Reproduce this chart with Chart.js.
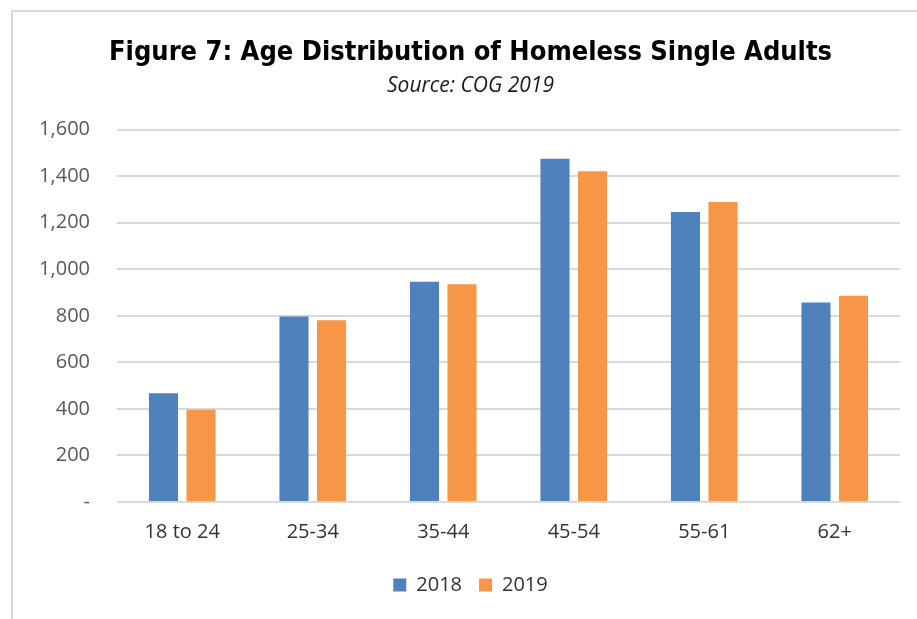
<!DOCTYPE html>
<html>
<head>
<meta charset="utf-8">
<script src="https://cdn.jsdelivr.net/npm/chart.js@4"></script>
<style>
  html, body { margin: 0; padding: 0; background: #fff; }
  .frame {
    position: absolute; left: 11px; top: 10px; width: 920px; height: 620px;
    border-left: 2px solid #d9d9d9; border-top: 2px solid #d9d9d9;
  }
  .wrap { position: absolute; left: 0; top: 0; width: 917px; height: 619px; }
</style>
</head>
<body>
<div class="frame"></div>
<div class="wrap"><canvas id="myChart" width="917" height="619"></canvas></div>
<script>
const ageGroups = ["18 to 24", "25-34", "35-44", "45-54", "55-61", "62+"];
const values2018 = [467, 797, 946, 1475, 1246, 857];
const values2019 = [396, 781, 936, 1421, 1289, 886];
const seriesNames = ["2018", "2019"];
const chartTitle = "Figure 7: Age Distribution of Homeless Single Adults";
const chartSource = "Source: COG 2019";

const blue = "#4F81BD";
const orange = "#F79646";
const bodyFont = "'Open Sans', 'Noto Sans', sans-serif";

const chartCanvas = document.querySelector("#myChart");

new Chart(chartCanvas, {
  type: "bar",
  data: {
    labels: ageGroups,
    datasets: [
      {
        label: seriesNames[0],
        data: values2018,
        backgroundColor: blue,
        borderWidth: 0,
        yAxisID: "y",
      },
      {
        label: seriesNames[1],
        data: values2019,
        backgroundColor: orange,
        borderWidth: 0,
        yAxisID: "y",
      },
    ],
  },
  options: {
    responsive: false,
    animation: false,
    categoryPercentage: 0.575,
    barPercentage: 0.775,
    layout: { padding: { left: 24, right: 0, top: 0, bottom: 14 } },
    scales: {
      x: {
        grid: { display: false, drawTicks: false },
        border: { display: false },
        ticks: {
          padding: 18,
          color: "#333333",
          font: { family: bodyFont, size: 20 },
        },
        afterFit: (scale) => { scale.height = 56; },
      },
      y: {
        min: 0,
        max: 1600,
        ticks: {
          stepSize: 200,
          padding: 27,
          color: "#595959",
          font: { family: bodyFont, size: 20 },
          callback: (v) => (v === 0 ? "-" : v.toLocaleString("en-US")),
        },
        grid: { color: "#d9d9d9", lineWidth: 2, drawTicks: false },
        border: { display: false },
        afterFit: (scale) => { scale.width = 93; },
      },
      // empty axis, only keeps a small margin on the right
      yRight: {
        position: "right",
        display: true,
        grid: { display: false, drawTicks: false },
        border: { display: false },
        ticks: { display: false },
        afterFit: (scale) => { scale.width = 17; },
      },
    },
    plugins: {
      title: {
        display: true,
        text: chartTitle,
        color: "#000000",
        font: { family: "'DejaVu Sans Condensed', 'Liberation Sans', sans-serif", size: 27, weight: "bold" },
        padding: { top: 37, bottom: 0 },
      },
      subtitle: {
        display: true,
        text: chartSource,
        color: "#1a1a1a",
        font: { family: bodyFont, size: 21, style: "italic" },
        padding: { top: 4, bottom: 31 },
      },
      legend: {
        position: "bottom",
        labels: {
          boxWidth: 13,
          boxHeight: 13,
          padding: 17,
          color: "#333333",
          font: { family: bodyFont, size: 20 },
        },
      },
      tooltip: { enabled: false },
    },
  },
});
</script>
</body>
</html>
